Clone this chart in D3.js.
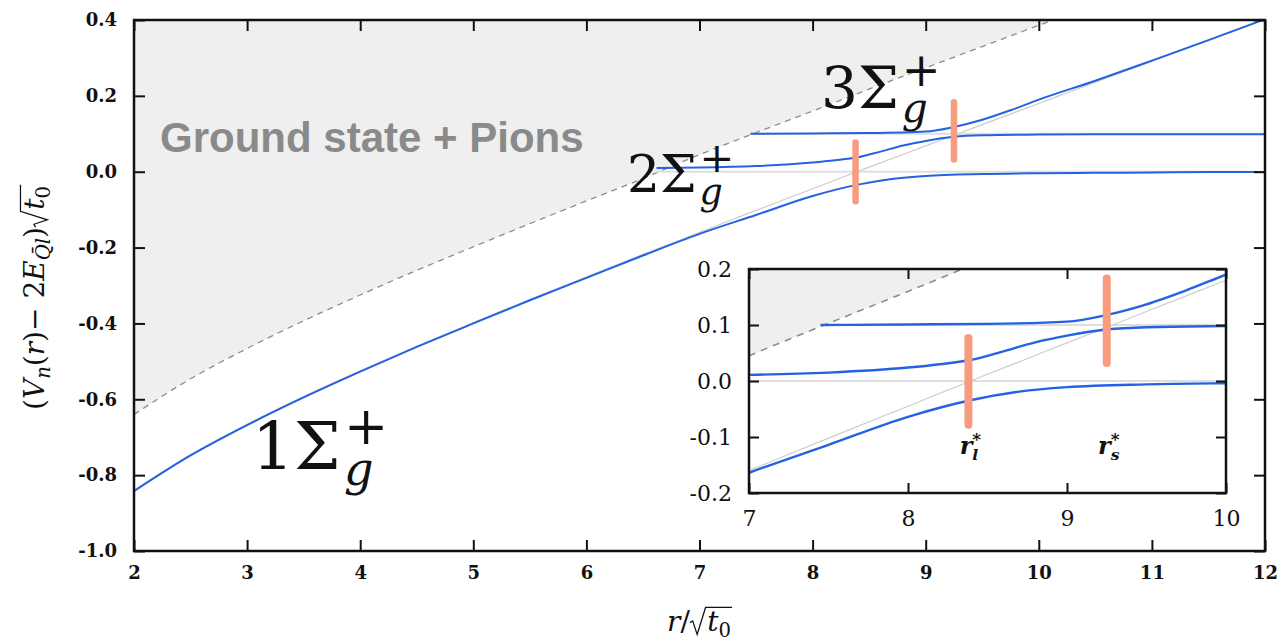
<!DOCTYPE html>
<html>
<head>
<meta charset="utf-8">
<script src="https://cdn.jsdelivr.net/npm/d3@7"></script>
<style>
  body { margin: 0; background: #fff; }
  svg { display: block; }
</style>
</head>
<body>
<svg id="chart" width="1288" height="642"></svg>
<script>
// ---- energies (V_n(r) - 2E_{Ql}) sqrt(t0) versus r / sqrt(t0) ----

// unmixed string level (thin grey diagonal)
const rString = [2, 2.5, 3, 3.5, 4, 4.5, 5, 5.5, 6, 6.5, 7, 7.5, 8, 8.5, 9, 9.5, 10, 10.5, 11, 11.5, 12];
const eString = [-0.840, -0.746, -0.666, -0.593, -0.525, -0.460, -0.398, -0.337, -0.277, -0.218,
                 -0.160, -0.102, -0.045, 0.012, 0.068, 0.124, 0.180, 0.236, 0.291, 0.346, 0.402];

// ground state + pion threshold (dashed edge of the shaded region)
const rThreshold = [2, 2.5, 3, 3.5, 4, 4.5, 5, 5.5, 6, 6.5, 7, 7.5, 8, 8.5, 9, 9.5, 10, 10.5, 11];
const eThreshold = [-0.640, -0.546, -0.466, -0.393, -0.325, -0.260, -0.198, -0.137, -0.077, -0.018,
                    0.045, 0.103, 0.160, 0.218, 0.274, 0.330, 0.386, 0.442, 0.497];

// adiabatic levels
const rLevel1 = [2, 2.5, 3, 3.5, 4, 4.5, 5, 5.5, 6, 6.5, 7, 7.5, 8, 8.4, 8.7, 9, 9.5, 10, 10.5, 11, 11.5, 12];
const eLevel1 = [-0.842, -0.748, -0.668, -0.595, -0.527, -0.462, -0.400, -0.339, -0.280, -0.221,
                 -0.164, -0.114, -0.064, -0.034, -0.019, -0.011, -0.006, -0.004, -0.003, -0.002, -0.001, -0.001];

const rLevel2 = [6.62, 7, 7.5, 8, 8.2, 8.4, 8.6, 8.8, 9, 9.25, 9.5, 10, 10.5, 11, 12];
const eLevel2 = [0.010, 0.011, 0.015, 0.024, 0.030, 0.038, 0.053, 0.069, 0.081, 0.092, 0.096, 0.098, 0.099, 0.099, 0.099];

const rLevel3 = [7.45, 8, 8.5, 9, 9.25, 9.5, 9.75, 10, 10.5, 11, 11.5, 12];
const eLevel3 = [0.100, 0.101, 0.102, 0.106, 0.118, 0.137, 0.162, 0.190, 0.240, 0.293, 0.347, 0.402];

// two-meson levels (thin grey horizontals)
const rMeson0 = [6.6, 12];
const eMeson0 = [0.0, 0.0];
const rMeson1 = [7.45, 12];
const eMeson1 = [0.1, 0.1];

// level crossings r_l^*, r_s^*
const crossNames = ["l", "s"];
const crossR  = [8.38, 9.25];
const crossLo = [-0.078, 0.032];
const crossHi = [0.077, 0.183];

// ticks
const xTicksMain  = [2, 3, 4, 5, 6, 7, 8, 9, 10, 11, 12];
const yTicksMain  = [-1.0, -0.8, -0.6, -0.4, -0.2, 0.0, 0.2, 0.4];
const xTicksInset = [7, 8, 9, 10];
const yTicksInset = [-0.2, -0.1, 0.0, 0.1, 0.2];

// ---- styling ----
const BLUE = "#2462e3";
const ORANGE = "#f89c80";
const SHADE = "#efefef";
const SERIF = "DejaVu Serif";

const zip = (xs, ys) => xs.map((x, i) => [x, ys[i]]);
const svg = d3.select("#chart");

function drawPanel(id, sx, sy, o) {
  const [x0, x1] = sx.range();
  const [y0, y1] = sy.range(); // y0 bottom, y1 top
  const root = svg.append("g").attr("class", id);

  if (o.background) {
    root.append("rect").attr("x", x0).attr("y", y1).attr("width", x1 - x0).attr("height", y0 - y1)
      .attr("fill", "#fff");
  }

  svg.append("defs").append("clipPath").attr("id", id + "-clip")
    .append("rect").attr("x", x0).attr("y", y1).attr("width", x1 - x0).attr("height", y0 - y1);

  const plot = root.append("g").attr("clip-path", `url(#${id}-clip)`);
  const line = d3.line().x(d => sx(d[0])).y(d => sy(d[1])).curve(d3.curveMonotoneX);

  // region above the pion threshold
  plot.append("path")
    .datum(zip(rThreshold, eThreshold))
    .attr("d", d3.area().x(d => sx(d[0])).y0(y1 - 5).y1(d => sy(d[1])).curve(d3.curveMonotoneX))
    .attr("fill", SHADE);
  plot.append("path")
    .datum(zip(rThreshold, eThreshold))
    .attr("d", line)
    .attr("fill", "none").attr("stroke", "#8d8d8d")
    .attr("stroke-width", o.dashW).attr("stroke-dasharray", o.dash);

  // unmixed levels
  [zip(rMeson0, eMeson0), zip(rMeson1, eMeson1)].forEach(pts => {
    plot.append("path").datum(pts).attr("d", line)
      .attr("fill", "none").attr("stroke", "#dedede").attr("stroke-width", o.greyW + 0.8);
  });
  plot.append("path").datum(zip(rString, eString)).attr("d", line)
    .attr("fill", "none").attr("stroke", "#cdcdcd").attr("stroke-width", o.greyW);

  // adiabatic levels
  [zip(rLevel1, eLevel1), zip(rLevel2, eLevel2), zip(rLevel3, eLevel3)].forEach(pts => {
    plot.append("path").datum(pts).attr("d", line)
      .attr("fill", "none").attr("stroke", BLUE).attr("stroke-width", o.lineW);
  });

  // crossing markers
  plot.selectAll("line.cross").data(crossR).join("line").attr("class", "cross")
    .attr("x1", d => sx(d)).attr("x2", d => sx(d))
    .attr("y1", (d, i) => sy(crossLo[i])).attr("y2", (d, i) => sy(crossHi[i]))
    .attr("stroke", ORANGE).attr("stroke-width", o.barW).attr("stroke-linecap", "round");

  // axes, ticks pointing inwards on all four sides
  const fmtX = d => String(d);
  const fmtY = d => d.toFixed(1);
  const styleAxis = (g, fam, size, weight) => {
    g.select(".domain").remove();
    g.selectAll(".tick line").attr("stroke", "#111").attr("stroke-width", o.tickW);
    g.selectAll(".tick text").attr("font-family", fam).attr("font-size", size)
      .attr("font-weight", weight).attr("fill", "#111");
  };
  root.append("g").attr("transform", `translate(0,${y0})`)
    .call(d3.axisBottom(sx).tickValues(o.xTicks).tickSize(-o.tick).tickPadding(o.xPad).tickFormat(fmtX))
    .call(g => styleAxis(g, o.fam, o.fs, o.fw));
  root.append("g").attr("transform", `translate(0,${y1})`)
    .call(d3.axisTop(sx).tickValues(o.xTicks).tickSize(-o.tick).tickFormat(""))
    .call(g => styleAxis(g, o.fam, o.fs, o.fw));
  root.append("g").attr("transform", `translate(${x0},0)`)
    .call(d3.axisLeft(sy).tickValues(o.yTicks).tickSize(-o.tick).tickPadding(o.yPad).tickFormat(fmtY))
    .call(g => styleAxis(g, o.fam, o.fs, o.fw));
  root.append("g").attr("transform", `translate(${x1},0)`)
    .call(d3.axisRight(sy).tickValues(o.yTicks).tickSize(-o.tick).tickFormat(""))
    .call(g => styleAxis(g, o.fam, o.fs, o.fw));

  root.append("rect").attr("x", x0).attr("y", y1).attr("width", x1 - x0).attr("height", y0 - y1)
    .attr("fill", "none").attr("stroke", "#111").attr("stroke-width", o.frameW);
  return root;
}

// lays out a row of text pieces (base glyphs, sub/superscripts) left to right
function mathRow(parent, parts, base, family) {
  const g = parent.append("g");
  let cx = 0, prevStart = 0;
  const marks = {};
  parts.forEach(p => {
    const start = (p.same ? prevStart : cx) + (p.kx || 0) * base;
    let w;
    if (p.rad) {
      w = 0.62 * base;
      marks.radStart = start;
    } else {
      const t = g.append("text")
        .attr("x", start).attr("y", -(p.up || 0) * base)
        .attr("font-family", p.fam || family)
        .attr("font-size", base * (p.s || 1))
        .attr("font-style", p.it ? "italic" : "normal")
        .attr("font-weight", p.bf ? "bold" : "normal")
        .attr("fill", p.fill || "#111")
        .text(p.t);
      w = t.node().getComputedTextLength();
    }
    prevStart = start;
    cx = Math.max(p.same ? cx : start + w, start + w);
  });
  marks.end = cx;
  return { g, width: cx, marks };
}

function radical(g, x0, x1, base) {
  const b = base;
  g.append("path")
    .attr("d", `M${x0},${-0.30 * b} L${x0 + 0.10 * b},${-0.36 * b} L${x0 + 0.26 * b},${0.12 * b} ` +
               `L${x0 + 0.56 * b},${-0.84 * b} H${x1 + 0.04 * b}`)
    .attr("fill", "none").attr("stroke", "#111").attr("stroke-width", Math.max(1.1, b * 0.045))
    .attr("stroke-linejoin", "miter");
}

// ---- main panel ----
const xMain = d3.scaleLinear().domain([2, 12]).range([134, 1265]);
const yMain = d3.scaleLinear().domain([-1.0, 0.4]).range([551, 20]);

drawPanel("main", xMain, yMain, {
  xTicks: xTicksMain, yTicks: yTicksMain, tick: 11, tickW: 2, frameW: 2.5,
  xPad: 15, yPad: 17, fam: "DejaVu Serif", fs: 18, fw: "bold",
  lineW: 2, greyW: 1.2, dashW: 1.3, dash: "6,5", barW: 6.5
});

// band label
svg.append("text").attr("x", 160).attr("y", 152)
  .attr("font-family", "Liberation Sans, Arial, sans-serif").attr("font-weight", "bold")
  .attr("font-size", 42).attr("fill", "#8a8a8a")
  .text("Ground state + Pions");

// state labels n Σ_g^+
function stateLabel(n, x, y, size) {
  const g = svg.append("g").attr("transform", `translate(${x},${y})`);
  mathRow(g, [
    { t: n + "Σ" },
    { t: "+", s: 0.8, up: 0.38, kx: 0.05 },
    { t: "g", it: true, s: 0.7, up: -0.24, same: true }
  ], size, SERIF);
}
stateLabel(1, 252, 469, 66);
stateLabel(2, 627, 192, 52);
stateLabel(3, 821, 108, 58);

// axis titles
{
  const base = 28;
  const g = svg.append("g");
  const row = mathRow(g, [
    { t: "(" }, { t: "V", it: true }, { t: "n", it: true, s: 0.7, up: -0.2 },
    { t: "(" }, { t: "r", it: true }, { t: ")" }, { t: " − 2" },
    { t: "E", it: true }, { t: "Q̄l", it: true, s: 0.7, up: -0.22 }, { t: ")" },
    { rad: true }, { t: "t", it: true }, { t: "0", s: 0.7, up: -0.2 }
  ], base, SERIF);
  radical(row.g, row.marks.radStart, row.marks.end, base);
  row.g.attr("transform", `translate(${44},${298 + row.width / 2}) rotate(-90)`);
}
{
  const base = 28;
  const g = svg.append("g");
  const row = mathRow(g, [
    { t: "r", it: true }, { t: "/" }, { rad: true }, { t: "t", it: true }, { t: "0", s: 0.7, up: -0.2 }
  ], base, SERIF);
  radical(row.g, row.marks.radStart, row.marks.end, base);
  row.g.attr("transform", `translate(${699 - row.width / 2},${631})`);
}

// ---- inset (zoom on the crossings) ----
const xInset = d3.scaleLinear().domain([7, 10]).range([749, 1226]);
const yInset = d3.scaleLinear().domain([-0.2, 0.2]).range([493, 269]);

drawPanel("inset", xInset, yInset, {
  background: true,
  xTicks: xTicksInset, yTicks: yTicksInset, tick: 10, tickW: 2, frameW: 2.5,
  xPad: 17, yPad: 17, fam: "DejaVu Serif", fs: 22, fw: "normal",
  lineW: 2.4, greyW: 1.2, dashW: 1.6, dash: "7,6", barW: 8
});

crossR.forEach((r, i) => {
  const g = svg.append("g");
  const row = mathRow(g, [
    { t: "r", it: true, bf: true },
    { t: "*", bf: true, s: 0.7, up: 0.38 },
    { t: crossNames[i], it: true, bf: true, s: 0.65, up: -0.24, same: true }
  ], 24, SERIF);
  row.g.attr("transform", `translate(${xInset(r) - row.width / 2 + 2},${yInset(-0.13)})`);
});
</script>
</body>
</html>
